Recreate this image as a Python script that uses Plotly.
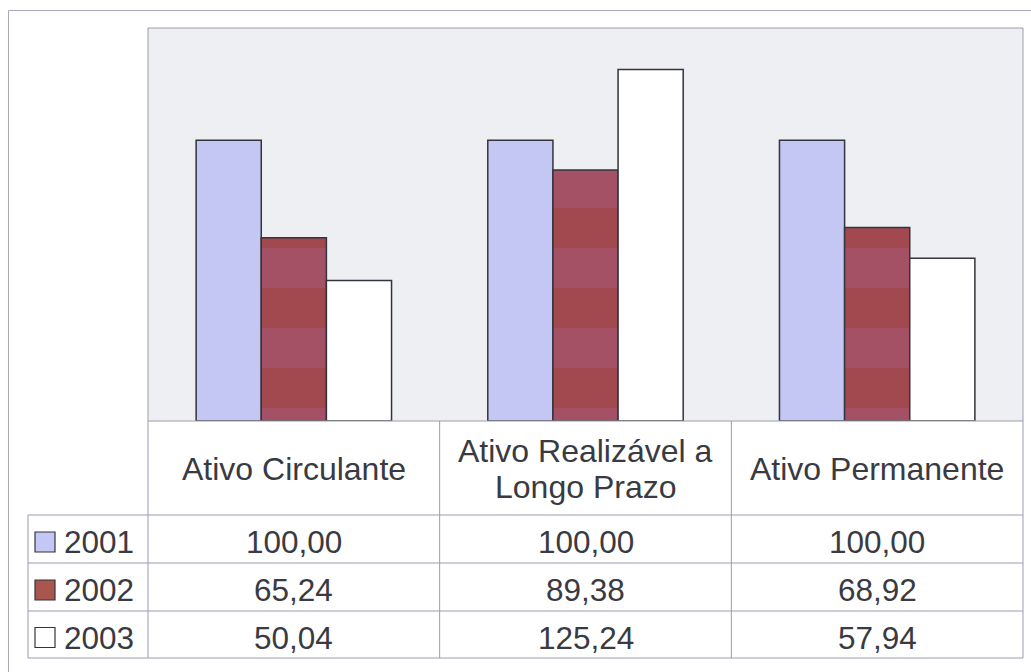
import plotly.graph_objects as go

# --- data -------------------------------------------------------------
categories = ["Ativo Circulante", "Ativo Realizável a Longo Prazo", "Ativo Permanente"]
header_lines = [["Ativo Circulante"], ["Ativo Realizável a", "Longo Prazo"], ["Ativo Permanente"]]
years = ["2001", "2002", "2003"]
values_2001 = [100.00, 100.00, 100.00]
values_2002 = [65.24, 89.38, 68.92]
values_2003 = [50.04, 125.24, 57.94]
series_values = [values_2001, values_2002, values_2003]

# --- page geometry (pixels) -------------------------------------------
W, H = 1031, 672
PLOT_L, PLOT_R, PLOT_T, PLOT_B = 148, 1023, 28, 421
TABLE_L = 28
ROW_EDGES = [515, 563, 611, 658]
HEADER_MID = 469
HEADER_LINE_STEP = 36

FONT = "Liberation Sans, Arial, sans-serif"
TEXT_COLOR = "#3a3a42"
GRID_COLOR = "#9a9ab8"


def px(x):
    return x / W


def py(y):
    return 1 - y / H


def fmt(v):
    return f"{v:.2f}".replace(".", ",")


# --- series styles ----------------------------------------------------
styles = [
    dict(color="#c4c7f4"),
    dict(color="#a24e5e",
         pattern=dict(shape="-", fgcolor="#a1494f", bgcolor="#a45166",
                      size=80, solidity=0.5, fillmode="replace")),
    dict(color="#ffffff"),
]

fig = go.Figure()
for name, vals, st in zip(years, series_values, styles):
    marker = dict(color=st["color"], line=dict(color="#34343c", width=1.5))
    if "pattern" in st:
        marker["pattern"] = st["pattern"]
    fig.add_trace(go.Bar(name=name, x=categories, y=vals, marker=marker,
                         showlegend=False, hoverinfo="skip"))

x_dom = [px(PLOT_L), px(PLOT_R)]
y_dom = [py(PLOT_B), py(PLOT_T)]

fig.update_layout(
    width=W, height=H,
    margin=dict(l=0, r=0, t=0, b=0),
    paper_bgcolor="#ffffff",
    plot_bgcolor="#edeff3",
    barmode="group",
    bargap=0.33,
    bargroupgap=0,
    font=dict(family=FONT, color=TEXT_COLOR),
    xaxis=dict(domain=x_dom, showticklabels=False, ticks="", showgrid=False,
               zeroline=False, showline=False, fixedrange=True),
    yaxis=dict(domain=y_dom, range=[0, 140], showticklabels=False, ticks="",
               showgrid=False, zeroline=False, showline=False, fixedrange=True),
)

shapes = []


def line(x0, y0, x1, y1, color=GRID_COLOR, width=1):
    shapes.append(dict(type="line", xref="paper", yref="paper",
                       x0=px(x0), y0=py(y0), x1=px(x1), y1=py(y1),
                       line=dict(color=color, width=width), layer="above"))


# outer frame (top and left edges)
line(8.5, 10.5, W, 10.5, color="#a8a8bc")
line(8.5, 10.5, 8.5, H, color="#a8a8bc")

# plot area border
shapes.append(dict(type="rect", xref="paper", yref="paper",
                   x0=x_dom[0], x1=x_dom[1], y0=y_dom[0], y1=y_dom[1],
                   line=dict(color="#9c9ca8", width=1), layer="above"))

# data table grid: column dividers at category boundaries
n = len(categories)
col_edges = [PLOT_L + (PLOT_R - PLOT_L) * i / n for i in range(n + 1)]
for xe in col_edges:
    line(xe, PLOT_B, xe, ROW_EDGES[-1])
line(TABLE_L, ROW_EDGES[0], TABLE_L, ROW_EDGES[-1])
for ye in ROW_EDGES:
    line(TABLE_L, ye, PLOT_R, ye)

annotations = []

# header row: category names (one annotation per text line)
for cat, lines_ in zip(categories, header_lines):
    k = len(lines_)
    for j, txt in enumerate(lines_):
        yc = HEADER_MID + (j - (k - 1) / 2) * HEADER_LINE_STEP
        annotations.append(dict(xref="x", yref="paper", x=cat, y=py(yc),
                                text=txt, showarrow=False, xanchor="center",
                                yanchor="middle",
                                font=dict(size=32, family=FONT, color=TEXT_COLOR)))

# value rows with legend keys
for r, (name, vals, st) in enumerate(zip(years, series_values, styles)):
    y0, y1 = ROW_EDGES[r], ROW_EDGES[r + 1]
    ymid = (y0 + y1) / 2 + 3
    key_fill = "#a8564e" if r == 1 else st["color"]
    key = dict(type="rect", xref="paper", yref="paper",
               x0=px(35), x1=px(55), y0=py(ymid + 10), y1=py(ymid - 10),
               fillcolor=key_fill, line=dict(color="#34343c", width=1.2),
               layer="above")
    shapes.append(key)
    annotations.append(dict(xref="paper", yref="paper", x=px(62), y=py(ymid),
                            text=name, showarrow=False, xanchor="left",
                            yanchor="middle",
                            font=dict(size=31.5, family=FONT, color=TEXT_COLOR)))
    for cat, v in zip(categories, vals):
        annotations.append(dict(xref="x", yref="paper", x=cat, y=py(ymid),
                                text=fmt(v), showarrow=False, xanchor="center",
                                yanchor="middle",
                                font=dict(size=31.5, family=FONT, color=TEXT_COLOR)))

fig.update_layout(shapes=shapes, annotations=annotations)

fig.write_html("out.html")
